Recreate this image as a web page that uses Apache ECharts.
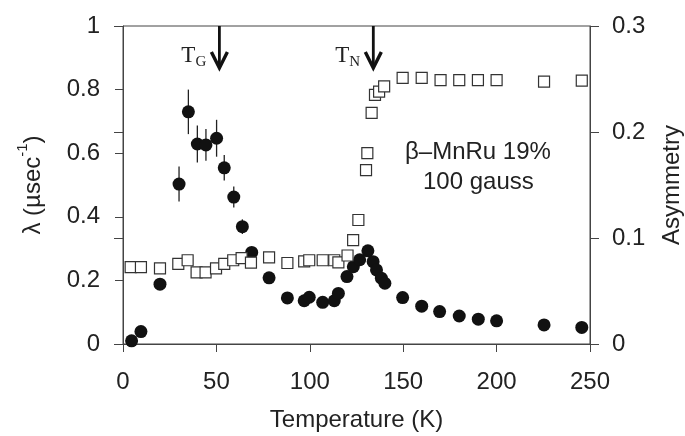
<!DOCTYPE html>
<html>
<head>
<meta charset="utf-8">
<script src="https://cdn.jsdelivr.net/npm/echarts@6/dist/echarts.min.js"></script>
<style>html,body{margin:0;padding:0;background:#fff;}#c{width:685px;height:436px;}</style>
</head>
<body>
<div id="c"></div>
<script>
// Relaxation rate lambda (filled circles, left axis)
var tempLambda = [4.6, 9.6, 19.8, 30, 35, 39.8, 44.4, 50.1, 54.2, 59.3, 63.9, 68.9, 78.2, 88, 97, 99.7, 106.9, 113.1, 115.3, 119.9, 123.3, 126.7, 131.1, 133.9, 135.7, 138.3, 140.2, 149.7, 159.9, 169.5, 180, 190.2, 200, 225.4, 245.6];
var lambdaVals = [0.01, 0.039, 0.188, 0.503, 0.73, 0.629, 0.626, 0.647, 0.554, 0.462, 0.369, 0.288, 0.208, 0.145, 0.136, 0.147, 0.131, 0.136, 0.159, 0.212, 0.243, 0.265, 0.293, 0.259, 0.233, 0.207, 0.191, 0.146, 0.119, 0.102, 0.088, 0.078, 0.073, 0.06, 0.052];
var lambdaErr = [0.01, 0.01, 0.012, 0.055, 0.07, 0.058, 0.05, 0.058, 0.04, 0.033, 0.023, 0.015, 0.01, 0.01, 0.01, 0.01, 0.01, 0.01, 0.01, 0.01, 0.01, 0.01, 0.01, 0.01, 0.01, 0.01, 0.01, 0.01, 0.01, 0.01, 0.01, 0.01, 0.01, 0.01, 0.01];
// Asymmetry (open squares, right axis)
var tempAsym = [4.1, 9.6, 19.8, 29.6, 34.6, 39.4, 44.2, 49.8, 54.2, 59, 63.5, 68.5, 78.2, 88, 97, 99.7, 106.9, 113.1, 115.3, 120.2, 123.2, 126, 130.1, 130.8, 133.1, 134.9, 137.1, 139.8, 149.7, 159.9, 170, 180, 190, 200, 225.4, 245.6];
var asymVals = [0.0726, 0.0726, 0.0714, 0.0755, 0.079, 0.0676, 0.0676, 0.0714, 0.0755, 0.079, 0.081, 0.0767, 0.0818, 0.0764, 0.078, 0.079, 0.079, 0.079, 0.077, 0.0835, 0.098, 0.117, 0.164, 0.180, 0.218, 0.235, 0.238, 0.243, 0.251, 0.251, 0.249, 0.249, 0.249, 0.249, 0.2475, 0.2484];
// Transition markers
var arrowTemps = [51.6, 134];
var arrowSubs = ['G', 'N'];
var xTicks = [0, 50, 100, 150, 200, 250];

var chart = echarts.init(document.getElementById('c'), null, {renderer: 'canvas'});
var FONT = 'Liberation Sans';
var AX = '#444';

var circleData = tempLambda.map(function (t, i) { return [t, lambdaVals[i]]; });
var errData = tempLambda.map(function (t, i) { return [t, lambdaVals[i], lambdaErr[i]]; });
var squareData = tempAsym.map(function (t, i) { return [t, asymVals[i]]; });
var arrowData = arrowTemps.map(function (t) { return [t, 1, 0.868]; });

var option = {
  animation: false,
  grid: {left: 123, right: 95, top: 26, bottom: 92, containLabel: false, outerBoundsMode: 'none',
    show: true, borderColor: AX, borderWidth: 1, backgroundColor: 'transparent'},
  xAxis: {
    type: 'value', min: 0, max: 250, interval: 50,
    name: 'Temperature (K)', nameLocation: 'middle', nameGap: 64,
    nameTextStyle: {fontFamily: FONT, fontSize: 24, color: '#222'},
    axisLine: {show: true, onZero: false, lineStyle: {color: AX, width: 1}},
    axisTick: {show: true, length: 8, lineStyle: {color: AX}},
    axisLabel: {fontFamily: FONT, fontSize: 24, color: '#222', margin: 26,
      formatter: function (v) { return xTicks.indexOf(v) >= 0 ? String(v) : ''; }},
    splitLine: {show: false}
  },
  yAxis: [
    {
      type: 'value', min: 0, max: 1, interval: 0.2, position: 'left',
      name: '{a|\u03bb (\u00b5sec}{s|-1}{a|)}', nameLocation: 'middle', nameGap: 78, nameRotate: 90,
      nameTextStyle: {rich: {
        a: {fontFamily: FONT, fontSize: 24, color: '#222', lineHeight: 30, verticalAlign: 'bottom'},
        s: {fontFamily: FONT, fontSize: 15, color: '#222', lineHeight: 30, verticalAlign: 'top'}
      }},
      axisLine: {show: true, onZero: false, lineStyle: {color: AX, width: 1}},
      axisTick: {show: true, length: 8, lineStyle: {color: AX}},
      axisLabel: {fontFamily: FONT, fontSize: 24, color: '#222', margin: 23},
      splitLine: {show: false}
    },
    {
      type: 'value', min: 0, max: 0.3, interval: 0.1, position: 'right',
      name: 'Asymmetry', nameLocation: 'middle', nameGap: 70, nameRotate: 90,
      nameTextStyle: {fontFamily: FONT, fontSize: 24, color: '#222'},
      axisLine: {show: true, onZero: false, lineStyle: {color: AX, width: 1}},
      axisTick: {show: true, length: 9, lineStyle: {color: AX}},
      axisLabel: {fontFamily: FONT, fontSize: 24, color: '#222', margin: 22},
      splitLine: {show: false}
    },
    {
      type: 'value', min: 0, max: 0.3, interval: 0.1, position: 'right',
      axisLine: {show: false}, axisLabel: {show: false},
      axisTick: {show: true, inside: true, length: 9, lineStyle: {color: AX}},
      splitLine: {show: false}
    }
  ],
  series: [
    {
      type: 'custom', yAxisIndex: 0, data: errData, z: 2,
      encode: {x: 0, y: 1},
      renderItem: function (params, api) {
        var x = api.value(0), y = api.value(1), e = api.value(2);
        var p1 = api.coord([x, y - e]), p2 = api.coord([x, y + e]);
        return {type: 'line', shape: {x1: p1[0], y1: p1[1], x2: p2[0], y2: p2[1]},
          style: {stroke: '#222', lineWidth: 1.3}};
      }
    },
    {
      type: 'scatter', yAxisIndex: 0, data: circleData, z: 3,
      symbol: 'circle', symbolSize: 13,
      itemStyle: {color: '#111', opacity: 1}
    },
    {
      type: 'scatter', yAxisIndex: 1, data: squareData, z: 4,
      symbol: 'rect', symbolSize: 11,
      itemStyle: {color: '#fff', borderColor: '#333', borderWidth: 1.2, opacity: 1}
    },
    {
      type: 'custom', yAxisIndex: 0, data: arrowData, z: 5, clip: false,
      encode: {x: 0, y: 1},
      renderItem: function (params, api) {
        var x = api.value(0);
        var top = api.coord([x, api.value(1)]);
        var tip = api.coord([x, api.value(2)]);
        var sub = arrowSubs[params.dataIndex];
        return {type: 'group', children: [
          {type: 'line', shape: {x1: top[0], y1: top[1], x2: tip[0], y2: tip[1] - 2},
            style: {stroke: '#111', lineWidth: 2.8}},
          {type: 'polyline', shape: {points: [[tip[0] - 8, tip[1] - 16], [tip[0], tip[1]], [tip[0] + 8, tip[1] - 16]]},
            style: {stroke: '#111', lineWidth: 3.4, fill: null, lineJoin: 'miter'}},
          {type: 'text', style: {text: 'T', x: tip[0] - 24, y: tip[1] - 12, align: 'right', verticalAlign: 'middle',
            font: '23px "Liberation Serif"', fill: '#222'}},
          {type: 'text', style: {text: sub, x: tip[0] - 24, y: tip[1] - 5.5, align: 'left', verticalAlign: 'middle',
            font: '15px "Liberation Serif"', fill: '#222'}}
        ]};
      }
    }
  ],
  graphic: [
    {type: 'text', left: 405, top: 140, style: {text: '\u03b2\u2013MnRu 19%', font: '24px "Liberation Sans"', fill: '#222'}},
    {type: 'text', left: 423, top: 170, style: {text: '100 gauss', font: '24px "Liberation Sans"', fill: '#222'}}
  ]
};
chart.setOption(option);
</script>
</body>
</html>
